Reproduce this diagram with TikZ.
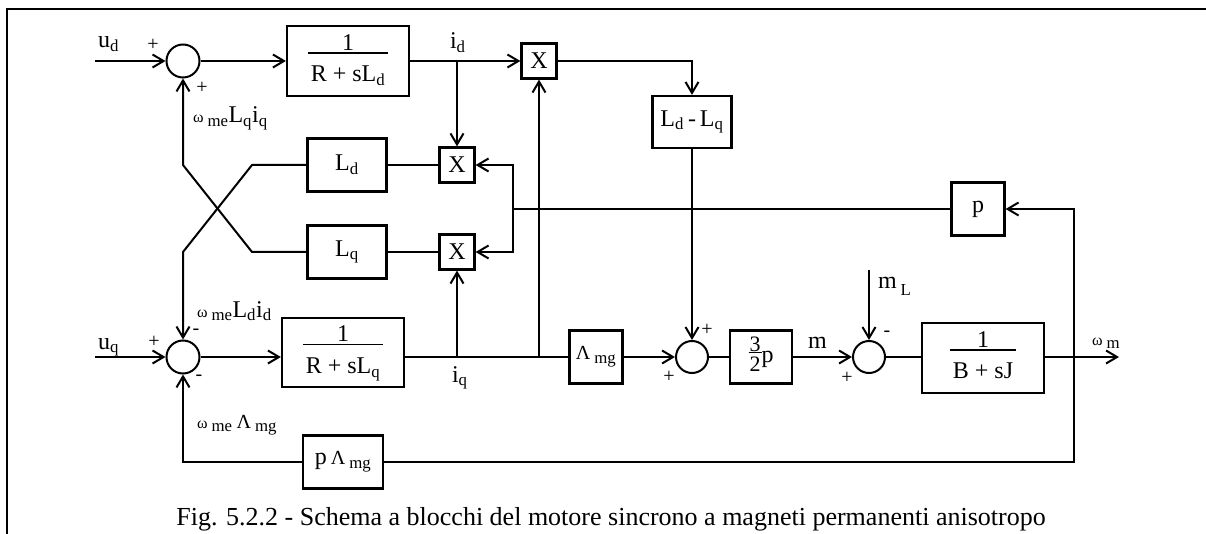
\documentclass[tikz,border=0pt]{standalone}
\usepackage{fontspec}
\setmainfont{Liberation Serif}
\usetikzlibrary{arrows.meta}
\newcommand{\blkfont}{\fontsize{24}{26}\selectfont}
\newcommand{\sgnfont}{\fontsize{20}{20}\selectfont}
\newcommand{\capfont}{\fontsize{26}{30}\selectfont}
\newcommand{\om}{{\fontsize{16}{16}\selectfont ω}}
\newcommand{\lam}{{\fontsize{20}{20}\selectfont Λ}}
\newcommand{\sbs}[1]{\textsubscript{#1}}
\newcommand{\blkfrac}[2]{{\setlength{\arrayrulewidth}{1.6pt}\setlength{\tabcolsep}{3pt}%
  \begin{tabular}{c}#1\\[-6pt]\hline\rule{0pt}{28pt}#2\end{tabular}}}
\newcommand{\smfrac}[2]{{\setlength{\arrayrulewidth}{1.4pt}\setlength{\tabcolsep}{1pt}%
  \fontsize{22}{18}\selectfont\begin{tabular}{c}#1\\[-5pt]\hline\rule{0pt}{18pt}#2\end{tabular}}}
\begin{document}
\begin{tikzpicture}[x=1pt, y=-1pt, line width=2pt,
    >={Straight Barb[length=11pt,width=13pt]},
    blk/.style={draw, rectangle, line width=2.2pt, inner sep=0pt, font=\blkfont},
    mul/.style={blk, minimum size=35pt},
    sum/.style={draw, circle, minimum size=33pt, inner sep=0pt},
    sgn/.style={font=\sgnfont, inner sep=0pt},
    lbl/.style={font=\blkfont, inner sep=0pt, anchor=base west}]
    \useasboundingbox (0,0) rectangle (1206,534);
    \draw[line width=2.3pt] (7,534) -- (7,9) -- (1206,9);

    \node[sum] (s1) at (183,61) {};
    \node[blk, minimum width=122pt, minimum height=70pt] (g1) at (348,61) {\blkfrac{1}{R + sL\sbs{d}}};
    \node[mul] (xt) at (539,61) {X};
    \node[blk, minimum width=79pt, minimum height=53pt] (ld) at (347,165) {L\sbs{d}};
    \node[blk, minimum width=79pt, minimum height=53pt] (lq) at (347,252) {L\sbs{q}};
    \node[mul] (xm) at (457,165) {X};
    \node[mul] (xb) at (457,252) {X};
    \node[blk, minimum width=79pt, minimum height=52pt] (ldq) at (692,122) {L\sbs{d}\,-\,L\sbs{q}};
    \node[blk, minimum size=53pt] (pb) at (978,209) {p};

    \node[sum] (s2) at (183,357) {};
    \node[blk, minimum width=122pt, minimum height=69pt] (g2) at (343,352.5) {\blkfrac{1}{R + sL\sbs{q}}};
    \node[blk, minimum size=53pt] (lm) at (596,357) {\lam\,\sbs{mg}};
    \node[sum, minimum size=32pt] (s3) at (692,357) {};
    \node[blk, minimum width=62pt, minimum height=53pt] (g32) at (761,357) {\smfrac{3}{2}p};
    \node[sum, minimum size=32pt] (s4) at (869,357) {};
    \node[blk, minimum width=122pt, minimum height=70pt] (g3) at (983,358) {\blkfrac{1}{B + sJ}};
    \node[blk, minimum width=80pt, minimum height=53pt] (pl) at (343,462) {p\,\lam\,\sbs{mg}};

    \coordinate (ud) at (95,61);
    \coordinate (uq) at (95,357);
    \coordinate (id) at (457,61);
    \coordinate (iq) at (457,357);
    \coordinate (iq2) at (539,357);
    \coordinate (wj) at (513,209);
    \coordinate (wo) at (1074,357);
    \coordinate (out) at (1119,357);
    \coordinate (ml) at (869,270);
    \coordinate (kd1) at (252,165);
    \coordinate (kd2) at (183,252);
    \coordinate (kq1) at (252,252);
    \coordinate (kq2) at (183,165);

    \draw[->] (ud) -- (s1);
    \draw[->] (s1) -- (g1);
    \draw[->] (g1) -- (xt);
    \draw[->] (id) -- (xm);
    \draw[->] (xt) -| (ldq);
    \draw[->] (ldq) -- (s3);
    \draw (xm) -- (ld);
    \draw (xb) -- (lq);
    \draw[->] (ld.west) -- (kd1) -- (kd2) -- (s2);
    \draw[->] (lq.west) -- (kq1) -- (kq2) -- (s1);
    \draw (pb) -- (wj);
    \draw[->] (wj) |- (xm);
    \draw[->] (wj) |- (xb);
    \draw[->] (wo) |- (pb);

    \draw[->] (uq) -- (s2);
    \draw[->] (s2) -- (s2 -| g2.west);
    \draw (g2.east |- s2) -- (lm);
    \draw[->] (iq) -- (xb);
    \draw[->] (iq2) -- (xt);
    \draw[->] (lm) -- (s3);
    \draw (s3) -- (g32);
    \draw[->] (g32) -- (s4);
    \draw[->] (ml) -- (s4);
    \draw (s4) -- (g3.west |- s4);
    \draw[->] (g3.east |- s4) -- (out);
    \draw (wo) |- (pl);
    \draw[->] (pl) -| (s2);

    \node[lbl] (tud) at (97,48) {u\sbs{d}};
    \node[lbl] (tuq) at (97,349) {u\sbs{q}};
    \node[lbl] (tid) at (449,49) {i\sbs{d}};
    \node[lbl] (tiq) at (451,382) {i\sbs{q}};
    \node[lbl] (tfq) at (192,123) {\om\,\sbs{me}L\sbs{q}i\sbs{q}};
    \node[lbl] (tfd) at (196,317) {\om\,\sbs{me}L\sbs{d}i\sbs{d}};
    \node[lbl] (tfm) at (196,428) {\om\,\sbs{me}\,\lam\,\sbs{mg}};
    \node[lbl] (tm) at (807,348) {m};
    \node[lbl] (tml) at (877,288) {m\,\raisebox{-4pt}{\sbs{L}}};
    \node[lbl] (tw) at (1091,345) {\om\,\sbs{m}};

    \node[sgn] (a1) at (153,45) {+};
    \node[sgn] (a2) at (202,88) {+};
    \node[sgn] (b1) at (154,342) {+};
    \node[sgn] (b2) at (196,332) {-};
    \node[sgn] (b3) at (199,378) {-};
    \node[sgn] (c1) at (707,330) {+};
    \node[sgn] (c2) at (669,377) {+};
    \node[sgn] (d1) at (887,334) {-};
    \node[sgn] (d2) at (847,378) {+};

    \node[font=\capfont, inner sep=0pt, anchor=base] (cap) at (611,525)
      {Fig. 5.2.2 - Schema a blocchi del motore sincrono a magneti permanenti anisotropo};
\end{tikzpicture}
\end{document}
